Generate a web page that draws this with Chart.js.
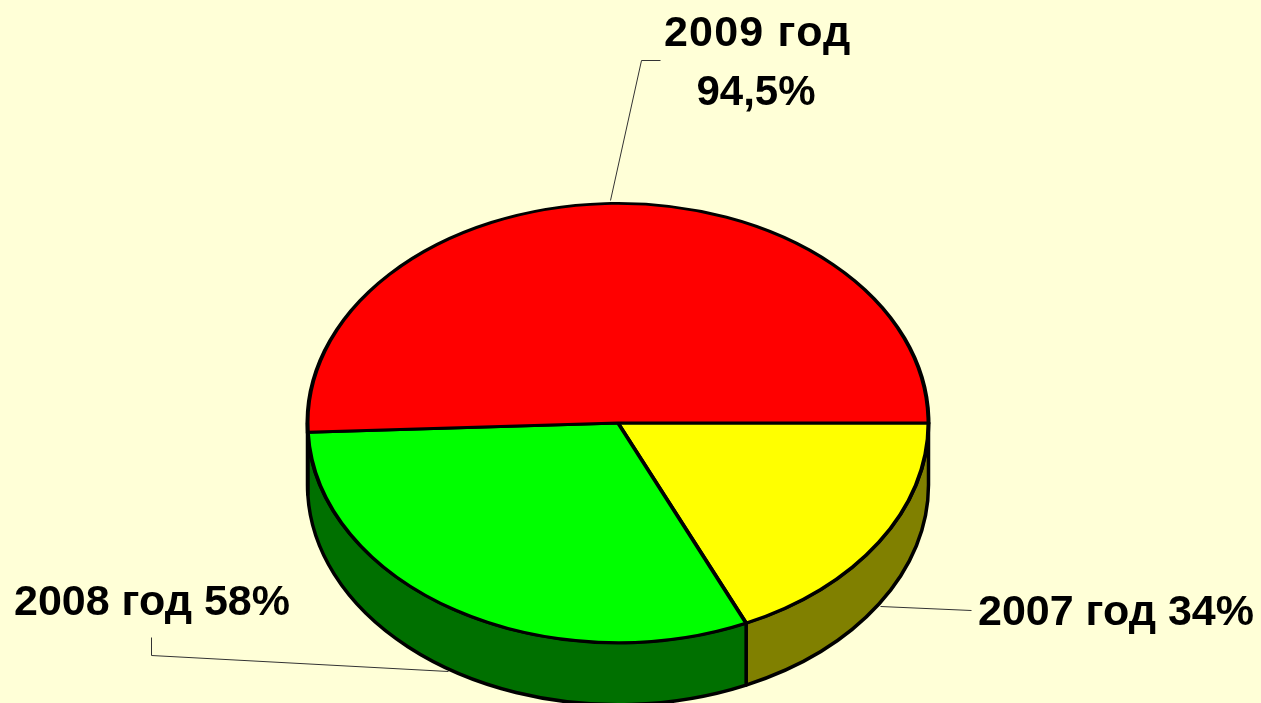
<!DOCTYPE html>
<html>
<head>
<meta charset="utf-8">
<title>2007-2009</title>
<script src="https://cdn.jsdelivr.net/npm/chart.js@4"></script>
<style>
  html, body { margin: 0; padding: 0; width: 1261px; height: 703px; overflow: hidden; background: #ffffd7; }
  #wrap { width: 1261px; height: 703px; overflow: hidden; }
</style>
</head>
<body>
<div id="wrap"><canvas id="chart" width="1261" height="760"></canvas></div>
<script>
// Data
var YEARS = ['2007 год', '2008 год', '2009 год'];
var SHARES = [34, 58, 94.5];
var SHARE_LABELS = ['34%', '58%', '94,5%'];

var TOP_COLORS = ['#ffff00', '#00ff00', '#ff0000'];
var SIDE_COLORS = ['#808000', '#007000', '#800000'];

// Tilt of the pie
var SQUASH = 220 / 311;
var DEPTH = 62;

var LABEL_FONT = 'bold 43px "Liberation Sans", Arial, sans-serif';
var SMALL_FONT = 'bold 42px "Liberation Sans", Arial, sans-serif';

// Squash the arcs around the pie centre, the side wall goes underneath
var tiltPlugin = {
  id: 'tilt',
  beforeDatasetsDraw: function (chart) {
    var ctx = chart.ctx;
    var arcs = chart.getDatasetMeta(0).data;

    ctx.lineWidth = 3.5;
    ctx.lineJoin = 'round';
    ctx.strokeStyle = '#000';

    arcs.forEach(function (arc, i) {
      var p = arc.getProps(['x', 'y', 'startAngle', 'endAngle', 'outerRadius'], true);
      var a0 = Math.max(p.startAngle, 0);
      var a1 = Math.min(p.endAngle, Math.PI);
      if (a1 <= a0) { return; }

      ctx.save();
      ctx.translate(0, p.y);
      ctx.scale(1, SQUASH);
      ctx.beginPath();
      ctx.arc(p.x, 0, p.outerRadius, a0, a1);
      ctx.arc(p.x, DEPTH / SQUASH, p.outerRadius, a1, a0, true);
      ctx.closePath();
      ctx.restore();

      ctx.fillStyle = SIDE_COLORS[i];
      ctx.fill();
      ctx.stroke();
    });

    var cy = arcs[0].y;
    ctx.save();
    ctx.translate(0, cy);
    ctx.scale(1, SQUASH);
    ctx.translate(0, -cy);
  },
  afterDatasetsDraw: function (chart) {
    chart.ctx.restore();
  }
};

// Leader lines and text labels
var labelPlugin = {
  id: 'labels',
  afterDraw: function (chart) {
    var ctx = chart.ctx;

    ctx.save();
    ctx.strokeStyle = '#333';
    ctx.lineWidth = 1;
    leader(ctx, [[971, 610], [880, 606]]);
    leader(ctx, [[151, 637], [151, 655], [448, 671]]);
    leader(ctx, [[660, 60], [641, 60], [610, 200]]);

    ctx.font = LABEL_FONT;
    ctx.fillStyle = '#000';
    ctx.textAlign = 'left';
    ctx.fillText(YEARS[0] + ' ' + SHARE_LABELS[0], 978, 625);
    ctx.fillText(YEARS[1] + ' ' + SHARE_LABELS[1], 14, 615);
    ctx.letterSpacing = '1.2px';
    ctx.fillText(YEARS[2], 664, 46);
    ctx.letterSpacing = '0px';
    ctx.font = SMALL_FONT;
    ctx.textAlign = 'center';
    ctx.fillText(SHARE_LABELS[2], 756, 105);
    ctx.restore();
  }
};

function leader(ctx, points) {
  ctx.beginPath();
  points.forEach(function (pt, i) {
    if (i === 0) { ctx.moveTo(pt[0] + 0.5, pt[1] + 0.5); } else { ctx.lineTo(pt[0] + 0.5, pt[1] + 0.5); }
  });
  ctx.stroke();
}

new Chart(document.getElementById('chart'), {
  type: 'pie',
  data: {
    labels: YEARS,
    datasets: [{
      data: SHARES,
      backgroundColor: TOP_COLORS,
      borderColor: '#000',
      borderWidth: 4,
      borderJoinStyle: 'round',
      clip: false
    }]
  },
  options: {
    responsive: false,
    animation: false,
    rotation: 90,
    layout: {
      padding: { left: 305.5, right: 330.5, top: 110.5, bottom: 24.5 }
    },
    plugins: {
      legend: { display: false },
      tooltip: { enabled: false }
    }
  },
  plugins: [tiltPlugin, labelPlugin]
});
</script>
</body>
</html>
